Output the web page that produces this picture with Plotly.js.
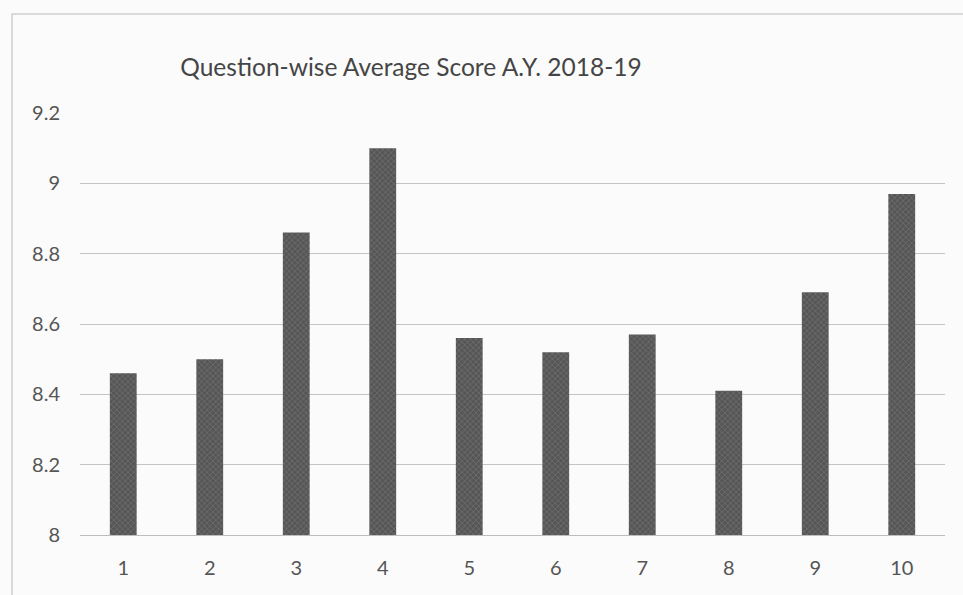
<!DOCTYPE html>
<html>
<head>
<meta charset="utf-8">
<script src="https://cdn.plot.ly/plotly-3.0.1.min.js"></script>
<style>html,body{margin:0;padding:0;background:#fbfbfb;}#chart{width:963px;height:595px;}</style>
</head>
<body>
<div id="chart"></div>
<script>
const questions = ["1","2","3","4","5","6","7","8","9","10"];
const avgScore = [8.46, 8.50, 8.86, 9.10, 8.56, 8.52, 8.57, 8.41, 8.69, 8.97];
const yTicks = [8, 8.2, 8.4, 8.6, 8.8, 9, 9.2];
const yTickText = ["8", "8.2", "8.4", "8.6", "8.8", "9", "9.2"];
const chartTitle = "Question-wise Average Score A.Y. 2018-19";

const trace = {
  type: "bar",
  x: questions,
  y: avgScore,
  marker: {
    color: "#5a5a5a",
    line: {width: 0},
    pattern: {shape: "x", size: 4, solidity: 0.25, fgcolor: "#7a7a7a", bgcolor: "#565656"}
  },
  hoverinfo: "x+y"
};

const layout = {
  width: 963, height: 595,
  paper_bgcolor: "#fbfbfb",
  plot_bgcolor: "rgba(0,0,0,0)",
  margin: {l: 80, r: 18, t: 113, b: 60},
  bargap: 0.69,
  showlegend: false,
  title: {
    text: chartTitle,
    font: {family: "Lato, 'Open Sans', sans-serif", size: 24.5, color: "#454545"},
    xref: "container", yref: "container",
    x: 0.4268, xanchor: "center",
    y: 1 - 67/595, yanchor: "middle"
  },
  xaxis: {
    type: "category",
    showgrid: false,
    showline: true, linecolor: "#bdbdbd", linewidth: 1,
    ticks: "", ticklabelstandoff: 15,
    tickfont: {family: "Lato, 'Open Sans', sans-serif", size: 20, color: "#555555"},
    fixedrange: true
  },
  yaxis: {
    range: [8, 9.2],
    tickvals: yTicks, ticktext: yTickText,
    showgrid: true, gridcolor: "#c4c4c4", gridwidth: 1,
    zeroline: false, showline: false,
    ticks: "", ticklabelstandoff: 19,
    tickfont: {family: "Lato, 'Open Sans', sans-serif", size: 20, color: "#555555"},
    fixedrange: true
  },
  shapes: [
    {type: "rect", xref: "paper", yref: "paper",
     x0: (12-80)/865, x1: 1.05, y0: -0.2, y1: (535-14)/422,
     line: {color: "#cfcfcf", width: 1.5}, fillcolor: "rgba(0,0,0,0)", layer: "below"}
  ]
};

Plotly.newPlot("chart", [trace], layout, {displayModeBar: false, staticPlot: true});
</script>
</body>
</html>
